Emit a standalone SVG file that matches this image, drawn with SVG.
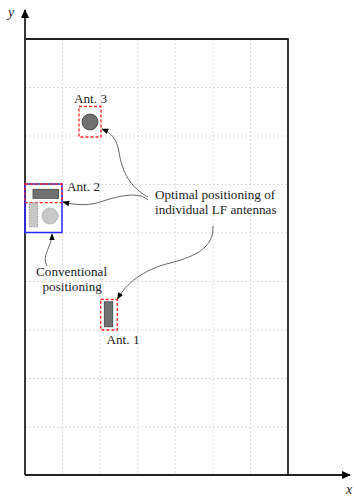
<svg xmlns="http://www.w3.org/2000/svg" width="354" height="497" viewBox="0 0 354 497">
<style>
.grid{stroke:#d0d0d0;stroke-width:0.8;stroke-dasharray:2,2;fill:none}
.frame{stroke:#222;stroke-width:1.8;fill:none}
.lbl{font-family:"Liberation Serif","Times New Roman",serif;font-size:13.2px;fill:#222}
.ax{font-family:"Liberation Serif","Times New Roman",serif;font-size:14px;font-style:italic;fill:#222}
.opt{stroke:#ff2020;stroke-width:1.3;stroke-dasharray:3,2;fill:none}
.conn{stroke:#555;stroke-width:0.9;fill:none;marker-end:url(#ah)}
.dark{fill:#707070;stroke:#404040;stroke-width:0.8}
.light{fill:#c8c8c8;stroke:#888;stroke-width:0.8;stroke-dasharray:1.5,1.2}
</style>
<defs>
<marker id="ah" viewBox="0 0 10 10" refX="9" refY="5" markerWidth="7" markerHeight="7" markerUnits="userSpaceOnUse" orient="auto">
<path d="M0,1 L10,5 L0,9 Z" fill="#000"/>
</marker>
<marker id="axh" viewBox="0 0 10 10" refX="9" refY="5" markerWidth="9" markerHeight="9" markerUnits="userSpaceOnUse" orient="auto">
<path d="M0,0.5 L10,5 L0,9.5 Z" fill="#000"/>
</marker>
</defs>
<rect width="354" height="497" fill="#fff"/>
<g id="grid">
<path class="grid" d="M62.6,39V475M100.2,39V475M137.8,39V475M175.4,39V475M213,39V475M250.6,39V475"/>
<path class="grid" d="M25,87.5H288M25,136H288M25,184.5H288M25,233H288M25,281.5H288M25,330H288M25,378.5H288M25,427H288"/>
</g>
<g id="axes">
<path class="frame" d="M25,39H288V475"/>
<path d="M25,475V10" stroke="#222" stroke-width="1.8" fill="none" marker-end="url(#axh)"/>
<path d="M25,475H350" stroke="#222" stroke-width="1.8" fill="none" marker-end="url(#axh)"/>
<text class="ax" x="8" y="17">y</text>
<text class="ax" x="346" y="494">x</text>
</g>
<g id="ant3">
<rect class="opt" x="79" y="106.5" width="22" height="30.5"/>
<circle class="dark" cx="90" cy="122" r="8"/>
<text class="lbl" x="74" y="103">Ant. 3</text>
</g>
<g id="ant2">
<rect x="25" y="184" width="37" height="48.5" fill="none" stroke="#2a2aff" stroke-width="1.5"/>
<rect class="opt" x="25" y="184" width="37" height="18.7"/>
<rect class="dark" x="33" y="189.3" width="25.5" height="9"/>
<rect class="light" x="29.3" y="202.8" width="8.4" height="24"/>
<circle class="light" cx="50" cy="216" r="8"/>
<text class="lbl" x="67" y="191">Ant. 2</text>
</g>
<g id="ant1">
<rect class="opt" x="100.7" y="299.5" width="16.6" height="30.5"/>
<rect class="dark" x="104.3" y="301.8" width="8.4" height="25"/>
<text class="lbl" x="106.5" y="343.5">Ant. 1</text>
</g>
<g id="optimal">
<text class="lbl" x="155" y="199">Optimal positioning of</text>
<text class="lbl" x="155" y="213.5">individual LF antennas</text>
</g>
<g id="conventional">
<text class="lbl" x="36" y="276">Conventional</text>
<text class="lbl" x="42.5" y="290.5">positioning</text>
</g>
<g id="connectors">
<path class="conn" d="M148,197 C130,187 122,172 119,152 C117,140 112,133 102,129"/>
<path class="conn" d="M148,200 C138,191 118,196 100,202 C88,206 75,205 63,202"/>
<path class="conn" d="M213,226 C214,246 198,256 170,263 C142,270 126,284 117.5,299"/>
<path class="conn" d="M47,266 C41,256 52,246 52,234"/>
</g>
</svg>
